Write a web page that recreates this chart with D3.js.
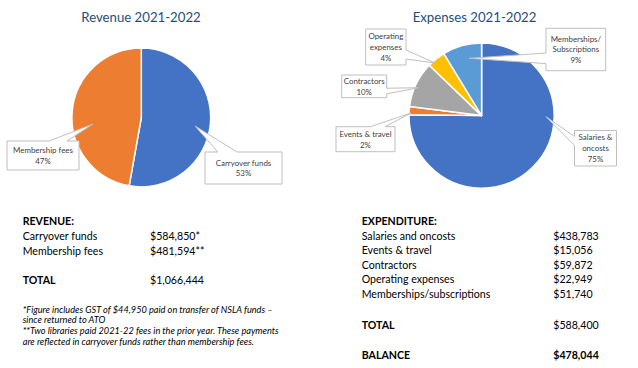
<!DOCTYPE html>
<html>
<head>
<meta charset="utf-8">
<script src="https://cdn.jsdelivr.net/npm/d3@7"></script>
<style>
  body { margin: 0; background: #fff; }
  svg text { font-family: Lato, "Open Sans", sans-serif; }
</style>
</head>
<body>
<svg id="chart" width="638" height="368"></svg>
<script>
// pie shares (percent)
const revenueCategories = ['Carryover funds', 'Membership fees'];
const revenueShares = [52.8, 47.2];
const revenueColors = ['#4472c4', '#ed7d31'];

const expenseCategories = ['Salaries & oncosts', 'Events & travel', 'Contractors', 'Operating expenses', 'Memberships/Subscriptions'];
const expenseShares = [75.2, 1.8, 10.2, 4.1, 8.7];
const expenseColors = ['#4472c4', '#ed7d31', '#a5a5a5', '#ffc000', '#5b9bd5'];

// callout text as shown on the chart
const revenueCallouts = [['Carryover funds'], ['Membership fees']];
const expenseCallouts = [['Salaries &', 'oncosts'], ['Events & travel'], ['Contractors'], ['Operating', 'expenses'], ['Memberships/', 'Subscriptions']];

// summary tables
const revenueLabels = ['Carryover funds', 'Membership fees'];
const revenueAmounts = ['$584,850*', '$481,594**'];
const revenueTotal = '$1,066,444';
const footnotes = [
  '*Figure includes GST of $44,950 paid on transfer of NSLA funds \u2013',
  'since returned to ATO',
  '**Two libraries paid 2021-22 fees in the prior year. These payments',
  'are reflected in carryover funds rather than membership fees.'
];
const expenseLabels = ['Salaries and oncosts', 'Events & travel', 'Contractors', 'Operating expenses', 'Memberships/subscriptions'];
const expenseAmounts = ['$438,783', '$15,056', '$59,872', '$22,949', '$51,740'];
const expenseTotal = '$588,400';
const balance = '$478,044';

const svg = d3.select('#chart');
const fmtPct = v => d3.format('.0f')(v) + '%';

// callout box with a wedge pointing to the slice (like excel's wedgeRectCallout)
function callout(g, box, tip, lines) {
  const { x, y, w, h } = box;
  const cx = x + w / 2, cy = y + h / 2;
  const dx = tip[0] - cx, dy = tip[1] - cy;
  const p = d3.path();
  if (Math.abs(dy) * w > Math.abs(dx) * h) {
    const a = x + w * (dx > 0 ? 7 : 2) / 12, b = x + w * (dx > 0 ? 10 : 5) / 12;
    if (dy < 0) {
      p.moveTo(x, y); p.lineTo(a, y); p.lineTo(tip[0], tip[1]); p.lineTo(b, y);
      p.lineTo(x + w, y); p.lineTo(x + w, y + h); p.lineTo(x, y + h);
    } else {
      p.moveTo(x, y); p.lineTo(x + w, y); p.lineTo(x + w, y + h); p.lineTo(b, y + h);
      p.lineTo(tip[0], tip[1]); p.lineTo(a, y + h); p.lineTo(x, y + h);
    }
  } else {
    const a = y + h * (dy > 0 ? 7 : 2) / 12, b = y + h * (dy > 0 ? 10 : 5) / 12;
    if (dx < 0) {
      p.moveTo(x, y); p.lineTo(x + w, y); p.lineTo(x + w, y + h); p.lineTo(x, y + h);
      p.lineTo(x, b); p.lineTo(tip[0], tip[1]); p.lineTo(x, a);
    } else {
      p.moveTo(x, y); p.lineTo(x + w, y); p.lineTo(x + w, a); p.lineTo(tip[0], tip[1]);
      p.lineTo(x + w, b); p.lineTo(x + w, y + h); p.lineTo(x, y + h);
    }
  }
  p.closePath();
  g.append('path').attr('d', p.toString())
    .attr('fill', '#fff').attr('stroke', '#bfbfbf').attr('stroke-width', 1);
  const lh = 10.8;
  const y0 = cy - (lines.length - 1) * lh / 2 + 2.9;
  g.append('g').selectAll('text').data(lines).join('text')
    .attr('x', cx).attr('y', (d, i) => y0 + i * lh)
    .attr('text-anchor', 'middle').attr('font-size', 7.9).attr('fill', '#404040')
    .text(d => d);
}

function drawPie(cfg) {
  const g = svg.append('g');
  g.append('text')
    .attr('x', cfg.titleX).attr('y', 22)
    .attr('text-anchor', 'middle').attr('font-size', 13.2).attr('fill', '#1f4e79')
    .text(cfg.title);

  const pie = d3.pie().sort(null).value(d => d)(cfg.shares);
  const arc = d3.arc().innerRadius(0).outerRadius(cfg.r);
  const pg = g.append('g').attr('transform', `translate(${cfg.cx},${cfg.cy})`);
  pg.selectAll('path').data(pie).join('path')
    .attr('d', arc)
    .attr('fill', (d, i) => cfg.colors[i])
    .attr('stroke', '#fff').attr('stroke-width', 1.5).attr('stroke-linejoin', 'round');

  cfg.layout.forEach((l, i) => {
    callout(g, l.box, l.tip, cfg.callouts[i].concat([fmtPct(cfg.shares[i])]));
  });
}

drawPie({
  title: 'Revenue 2021-2022', titleX: 141, cx: 141.3, cy: 117.5, r: 69.4,
  shares: revenueShares, colors: revenueColors, callouts: revenueCallouts,
  layout: [
    { box: { x: 205, y: 152, w: 77, h: 32 }, tip: [195, 126] },
    { box: { x: 7, y: 141, w: 72, h: 29 }, tip: [93, 124] }
  ]
});

drawPie({
  title: 'Expenses 2021-2022', titleX: 474.5, cx: 481.6, cy: 115.6, r: 72.6,
  shares: expenseShares, colors: expenseColors, callouts: expenseCallouts,
  layout: [
    { box: { x: 574.5, y: 130.5, w: 42, h: 35.5 }, tip: [546, 116.7] },
    { box: { x: 336, y: 126.7, w: 59, h: 25 }, tip: [411, 113] },
    { box: { x: 341.7, y: 75, w: 45, h: 22.7 }, tip: [418.3, 87.7] },
    { box: { x: 365.7, y: 29, w: 40.3, h: 36 }, tip: [435, 63] },
    { box: { x: 546, y: 28.3, w: 59.7, h: 42.4 }, tip: [469.3, 58.3] }
  ]
});

// tables
const tfs = 10.6;
function row(x, y, t, bold) {
  svg.append('text').attr('x', x).attr('y', y).attr('font-size', tfs)
    .attr('font-weight', bold ? 'bold' : 'normal').attr('fill', '#000').text(t);
}

row(22.7, 225, 'REVENUE:', true);
const revY = d3.scalePoint().domain(revenueLabels).range([239.5, 255]);
revenueLabels.forEach((l, i) => {
  row(22.7, revY(l), l);
  row(150, revY(l), revenueAmounts[i]);
});
row(22.7, 283.5, 'TOTAL', true);
row(150, 283.5, revenueTotal);

svg.append('g').selectAll('text').data(footnotes).join('text')
  .attr('x', 22.7).attr('y', (d, i) => 312.5 + i * 10.7)
  .attr('font-size', 9.2).attr('font-style', 'italic').attr('fill', '#000')
  .text(d => d);

row(361.7, 224.5, 'EXPENDITURE:', true);
const expY = d3.scalePoint().domain(expenseLabels).range([239.5, 297.5]);
expenseLabels.forEach((l, i) => {
  row(361.7, expY(l), l);
  row(553.3, expY(l), expenseAmounts[i]);
});
row(361.7, 328.5, 'TOTAL', true);
row(553.3, 328.5, expenseTotal);
row(361.7, 358.5, 'BALANCE', true);
row(553.3, 358.5, balance, true);
</script>
</body>
</html>
